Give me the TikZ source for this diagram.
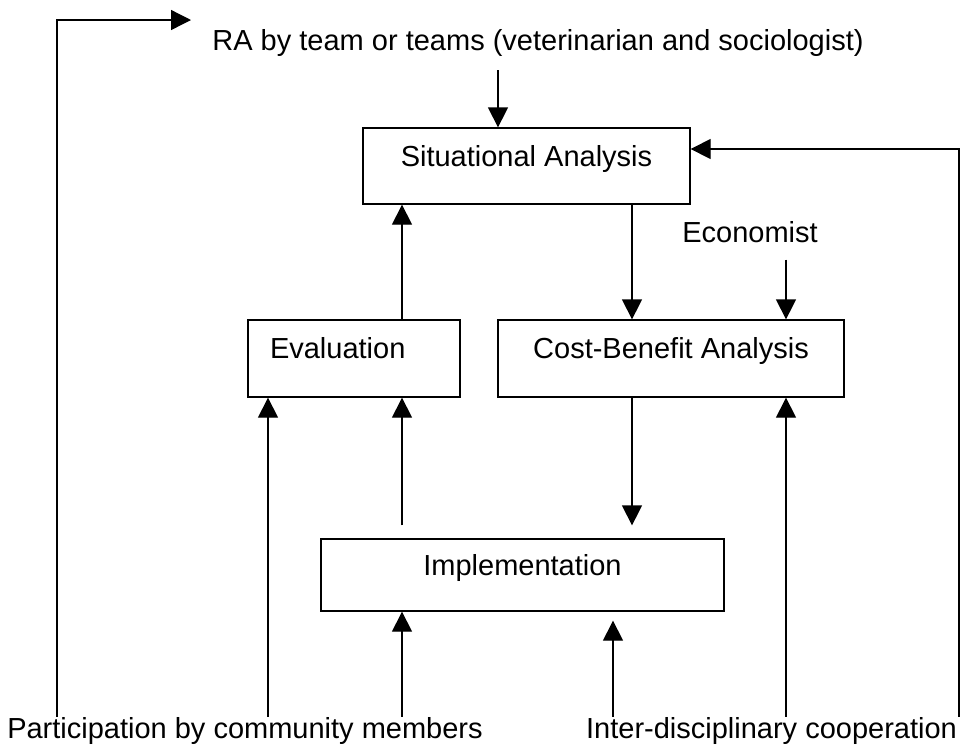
\documentclass[tikz,border=0pt]{standalone}
\usepackage{fontspec}
\setmainfont{Liberation Sans}
\usetikzlibrary{arrows.meta}
\tikzset{every node/.style={ % text size for all nodes
font=\fontsize{14.5}{17}\selectfont},
box/.style={ % framed steps of the cycle
draw,
line width=0.65pt,
text height=11pt, text depth=11pt,
inner sep=0pt},
lbl/.style={inner sep=0pt}, % free text, no frame
arr/.style={ % connectors with filled heads
draw,
line width=0.65pt,
-{Triangle[length=10pt,width=10pt]}}}

\begin{document}
\begin{tikzpicture}[x=0.5pt, y=-0.5pt]
\useasboundingbox (0,0) rectangle (962,746);
% steps
\node[box, minimum width=163.5pt, minimum height=38pt] (sit) at (526.5,166) {Situational Analysis};
\node[box, minimum width=106pt, minimum height=38.5pt, text width=84pt, inner xsep=11pt, align=left] (eval) at (354,358.5) {Evaluation};
\node[box, minimum width=173pt, minimum height=38.5pt] (cba) at (671,358.5) {Cost-Benefit Analysis};
\node[box, minimum width=201.5pt, minimum height=36pt] (impl) at (522.5,575) {Implementation};
% actors
\node[lbl, anchor=base] (ra) at (538,50) {RA by team or teams (veterinarian and sociologist)};
\node[lbl, anchor=base] (econ) at (750,242) {Economist};
\node[lbl, anchor=base] (part) at (245,738) {Participation by community members};
\node[lbl, anchor=base] (inter) at (771.5,738) {Inter-disciplinary cooperation};
% columns and loose ends
\coordinate (cA) at (57,20);
\coordinate (cB) at (268,0);
\coordinate (cC) at (402,0);
\coordinate (cE) at (613,0);
\coordinate (cF) at (632,0);
\coordinate (cG) at (786,0);
\coordinate (cH) at (959,149);
\coordinate (raIn) at (191,20);
\coordinate (raOut) at (498,70);
% connectors
\draw[arr] (cA |- part.north) -- (cA) -- (raIn);
\draw[arr] (raOut) -- (raOut |- sit.north);
\draw[arr] (cH |- inter.north) -- (cH) -- (cH -| sit.east);
\draw[arr] (cC |- eval.north) -- (cC |- sit.south);
\draw[arr] (cF |- sit.south) -- (cF |- cba.north);
\draw[arr, shorten <=8.5pt] (cG |- econ.south) -- (cG |- cba.north);
\draw[arr, shorten >=6.5pt] (cF |- cba.south) -- (cF |- impl.north);
\draw[arr, shorten <=6.5pt] (cC |- impl.north) -- (cC |- eval.south);
\draw[arr] (cB |- part.north) -- (cB |- eval.south);
\draw[arr] (cC |- part.north) -- (cC |- impl.south);
\draw[arr, shorten >=4.5pt] (cE |- inter.north) -- (cE |- impl.south);
\draw[arr] (cG |- inter.north) -- (cG |- cba.south);
\end{tikzpicture}
\end{document}
